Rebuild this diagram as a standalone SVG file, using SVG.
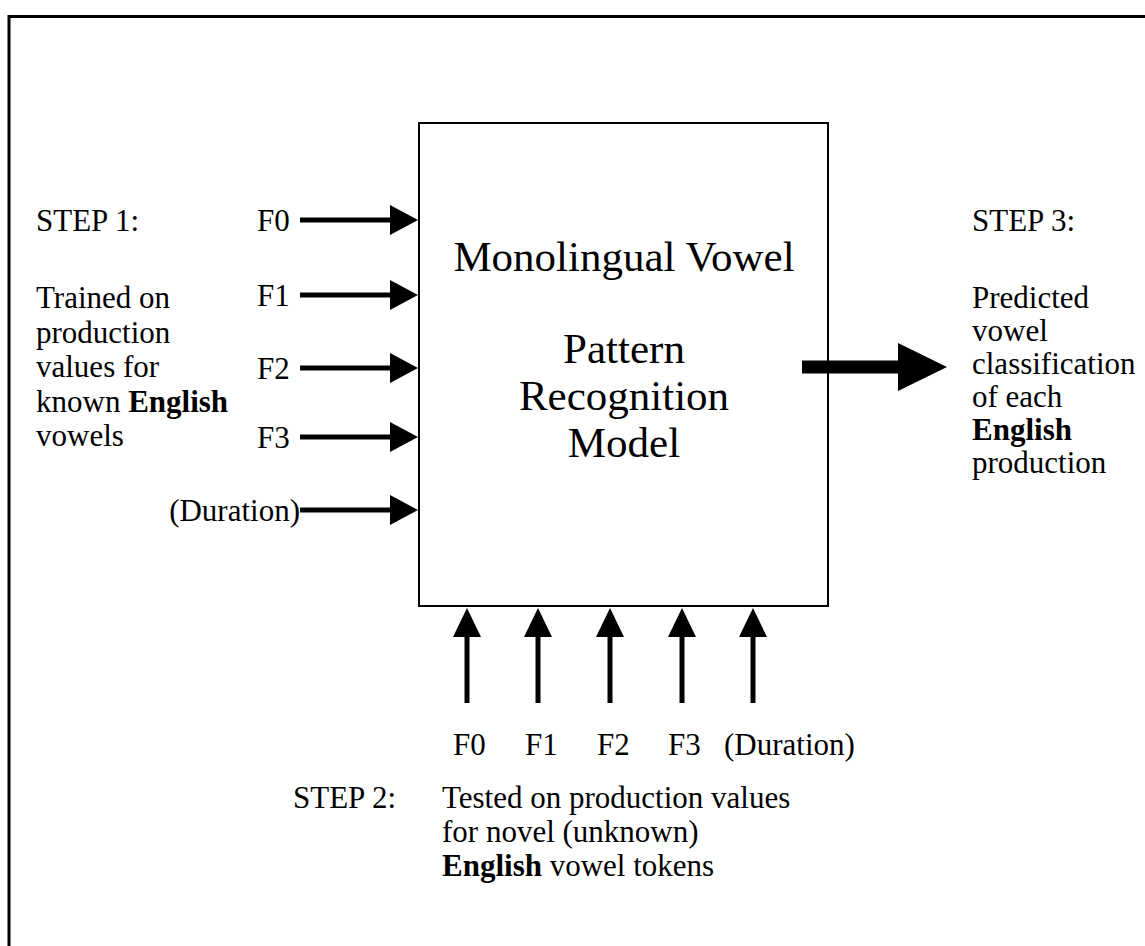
<svg xmlns="http://www.w3.org/2000/svg" width="1145" height="946" viewBox="0 0 1145 946">
<style>
text{font-family:"Liberation Serif","Times New Roman",serif;fill:#000;font-size:31px}
.big{font-size:43px;text-anchor:middle}
.b{font-weight:bold}
.ln{stroke:#000;stroke-width:5;fill:none}
.hd{fill:#000;stroke:none}
</style>
<rect width="1145" height="946" fill="#fff"/>
<g id="frame">
<line x1="8" y1="16.5" x2="1145" y2="16.5" stroke="#000" stroke-width="3"/>
<line x1="9" y1="15" x2="9" y2="946" stroke="#000" stroke-width="3"/>
</g>
<g id="model">
<rect x="419" y="123" width="409" height="483" fill="none" stroke="#000" stroke-width="2"/>
<text class="big" x="624" y="271">Monolingual Vowel</text>
<text class="big" x="624" y="363">Pattern</text>
<text class="big" x="624" y="410">Recognition</text>
<text class="big" x="624" y="457">Model</text>
</g>
<g id="step1">
<text x="36" y="231">STEP 1:</text>
<text x="36" y="308">Trained on</text>
<text x="36" y="343">production</text>
<text x="36" y="377">values for</text>
<text x="36" y="412">known <tspan class="b">English</tspan></text>
<text x="36" y="446">vowels</text>
</g>
<g id="inputs-left">
<text x="257" y="231">F0</text>
<text x="257" y="306">F1</text>
<text x="257" y="379">F2</text>
<text x="257" y="448">F3</text>
<text x="300" y="521" text-anchor="end">(Duration)</text>
</g>
<g id="step3">
<text x="972" y="231">STEP 3:</text>
<text x="972" y="308">Predicted</text>
<text x="972" y="341">vowel</text>
<text x="972" y="374">classification</text>
<text x="972" y="407">of each</text>
<text x="972" y="440" class="b">English</text>
<text x="972" y="473">production</text>
</g>
<g id="inputs-bottom">
<text x="453" y="755">F0</text>
<text x="525" y="755">F1</text>
<text x="597" y="755">F2</text>
<text x="668" y="755">F3</text>
<text x="724" y="755">(Duration)</text>
</g>
<g id="step2">
<text x="293" y="808">STEP 2:</text>
<text x="442" y="808">Tested on production values</text>
<text x="442" y="842">for novel (unknown)</text>
<text x="442" y="876"><tspan class="b">English</tspan> vowel tokens</text>
</g>
<g id="connectors">
<line class="ln" x1="300" y1="220" x2="392" y2="220"/><polygon class="hd" points="390,205 418,220 390,235"/>
<line class="ln" x1="300" y1="295" x2="392" y2="295"/><polygon class="hd" points="390,280 418,295 390,310"/>
<line class="ln" x1="300" y1="368" x2="392" y2="368"/><polygon class="hd" points="390,353 418,368 390,383"/>
<line class="ln" x1="300" y1="437" x2="392" y2="437"/><polygon class="hd" points="390,422 418,437 390,452"/>
<line class="ln" x1="300" y1="510" x2="392" y2="510"/><polygon class="hd" points="390,495 418,510 390,525"/>
<line x1="802" y1="367" x2="900" y2="367" stroke="#000" stroke-width="13"/><polygon class="hd" points="898,343 947,367 898,391"/>
<line class="ln" x1="467" y1="703" x2="467" y2="634"/><polygon class="hd" points="453,637 467,608 481,637"/>
<line class="ln" x1="538" y1="703" x2="538" y2="634"/><polygon class="hd" points="524,637 538,608 552,637"/>
<line class="ln" x1="610" y1="703" x2="610" y2="634"/><polygon class="hd" points="596,637 610,608 624,637"/>
<line class="ln" x1="682" y1="703" x2="682" y2="634"/><polygon class="hd" points="668,637 682,608 696,637"/>
<line class="ln" x1="753" y1="703" x2="753" y2="634"/><polygon class="hd" points="739,637 753,608 767,637"/>
</g>
</svg>
